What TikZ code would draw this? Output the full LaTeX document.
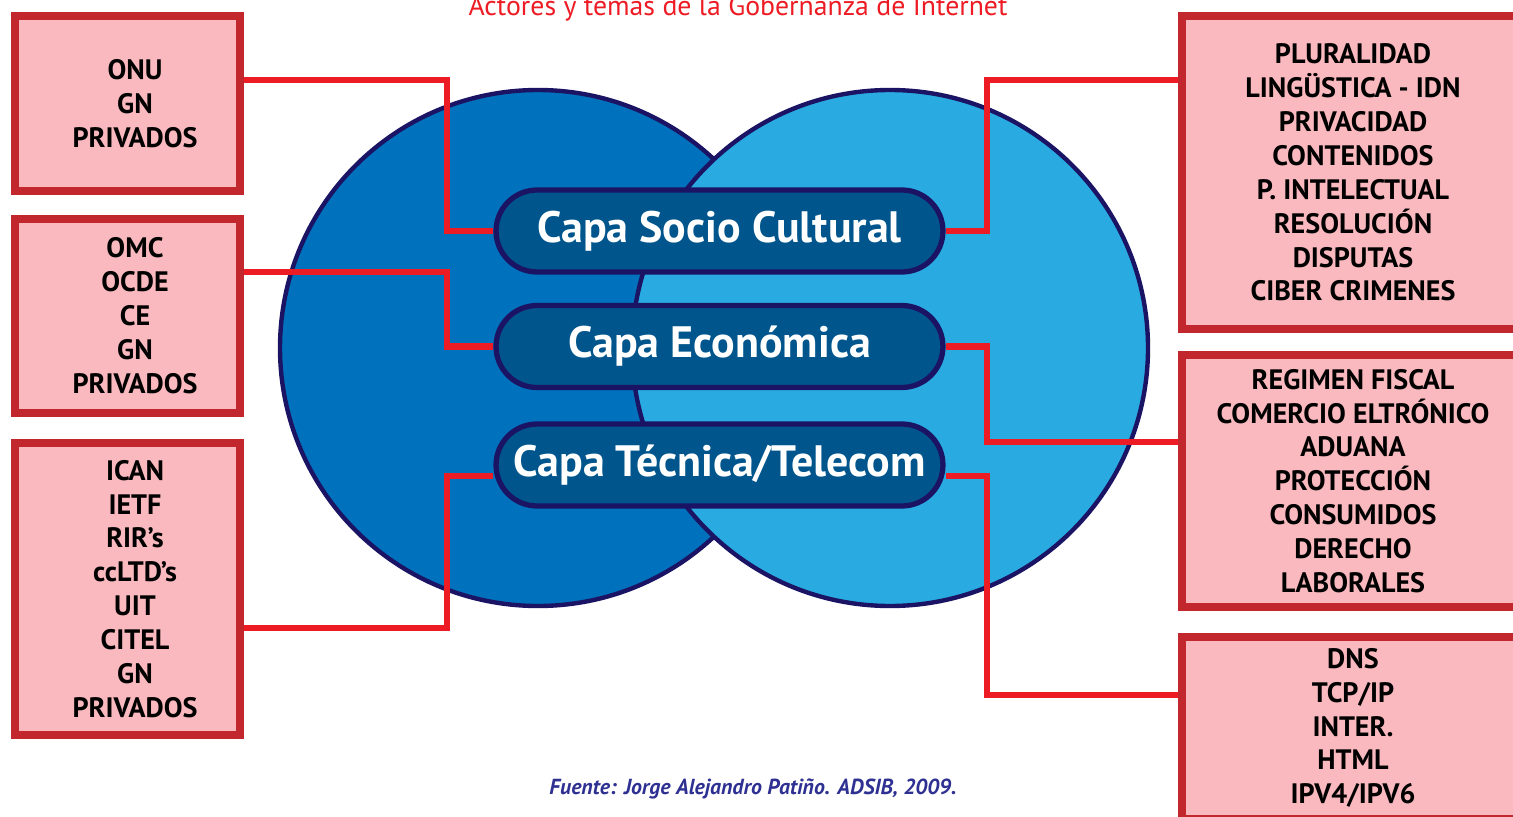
\documentclass[tikz,border=0pt]{standalone}
\usepackage{fontspec}
\setmainfont{PT Sans}
\usetikzlibrary{calc}

\definecolor{boxred}{HTML}{C1272D}
\definecolor{boxpink}{HTML}{F9B9BE}
\definecolor{linkred}{HTML}{ED1C24}
\definecolor{leftblue}{HTML}{0071BC}
\definecolor{rightblue}{HTML}{29ABE2}
\definecolor{navy}{HTML}{1B1464}
\definecolor{pillblue}{HTML}{00558C}
\definecolor{srcblue}{HTML}{2E3192}

\pgfdeclarelayer{background}
\pgfsetlayers{background,main}

% centred list of lines, nudged right and down
\newcommand{\itemstack}[1]{\hspace*{0.3cm}\raisebox{0pt}[\dimexpr\height+0.12cm\relax][\depth]{\begin{tabular}{@{}c@{}}#1\end{tabular}}}

\begin{document}
\begin{tikzpicture}[x=0.02cm, y=-0.02cm,
    actor/.style={draw=boxred, fill=boxpink, line width=4.5pt, align=center, inner sep=0pt, font=\bfseries\fontsize{16}{19.3}\selectfont},
    layer/.style={draw=navy, fill=pillblue, line width=3pt, rounded corners=0.82cm, minimum width=8.94cm, minimum height=1.64cm, inner sep=0pt, text=white, font=\bfseries\fontsize{25}{30}\selectfont},
    link/.style={draw=linkred, line width=3.8pt},
    sphere/.style={draw=navy, line width=2.5pt}
]
    \useasboundingbox (0,0) rectangle (1513,817);

    % --- Title and source ---
    \node[anchor=base, text=linkred, font=\fontsize{15.8}{19}\selectfont] (title) at (738,16) {Actores y temas de la Gobernanza de Internet};
    \node[anchor=base, text=srcblue, font=\bfseries\itshape\fontsize{12.4}{15}\selectfont] (source) at (753,794) {Fuente: Jorge Alejandro Patiño. ADSIB, 2009.};

    % --- Two overlapping spheres ---
    \begin{pgfonlayer}{background}
        \draw[sphere, fill=leftblue] (538,348) circle[radius=258];
        \draw[sphere, fill=rightblue] (890,348) circle[radius=258];
    \end{pgfonlayer}

    % --- Layers ---
    \node[layer] (socio) at (719.5,231) {Capa Socio Cultural};
    \node[layer] (econ) at (719.5,346.5) {Capa Económica};
    \node[layer] (tec) at (719.5,465) {Capa Técnica/Telecom};

    % --- Actors (left) ---
    \node[actor, minimum width=4.5cm, minimum height=3.5cm] (onu) at (127.5,103.5) {\itemstack{ONU\\GN\\PRIVADOS}};
    \node[actor, minimum width=4.5cm, minimum height=3.88cm] (omc) at (127.5,316) {\itemstack{OMC\\OCDE\\CE\\GN\\PRIVADOS}};
    \node[actor, minimum width=4.5cm, minimum height=5.84cm] (ican) at (127.5,589) {\itemstack{ICAN\\IETF\\RIR’s\\ccLTD’s\\UIT\\CITEL\\GN\\PRIVADOS}};

    % --- Topics (right) ---
    \node[actor, minimum width=6.84cm, minimum height=6.26cm] (plural) at (1353,172.5) {PLURALIDAD\\LINGÜSTICA - IDN\\PRIVACIDAD\\CONTENIDOS\\P. INTELECTUAL\\RESOLUCIÓN\\DISPUTAS\\CIBER CRIMENES};
    \node[actor, minimum width=6.84cm, minimum height=5.04cm] (fiscal) at (1353,481) {REGIMEN FISCAL\\COMERCIO ELTRÓNICO\\ADUANA\\PROTECCIÓN\\CONSUMIDOS\\DERECHO\\LABORALES};
    \node[actor, minimum width=6.84cm, minimum height=3.64cm] (dns) at (1353,728) {DNS\\TCP/IP\\INTER.\\HTML\\IPV4/IPV6};

    % --- Links ---
    \coordinate (kONU) at (447,80);
    \coordinate (kOMC) at (447,272);
    \coordinate (kICAN) at (447,628);
    \coordinate (kPLU) at (987,80);
    \coordinate (kFIS) at (987,442);
    \coordinate (kDNS) at (987,695);
    \begin{pgfonlayer}{background}
        \draw[link] (onu.east |- kONU) -- (kONU) |- (socio.west);
        \draw[link] (omc.east |- kOMC) -- (kOMC) |- (econ.west);
        \draw[link] (ican.east |- kICAN) -- (kICAN) |- ($(tec.west)+(0,11)$);
        \draw[link] (plural.west |- kPLU) -- (kPLU) |- (socio.east);
        \draw[link] (fiscal.west |- kFIS) -- (kFIS) |- (econ.east);
        \draw[link] (dns.west |- kDNS) -- (kDNS) |- ($(tec.east)+(0,11)$);
    \end{pgfonlayer}

\end{tikzpicture}
\end{document}
